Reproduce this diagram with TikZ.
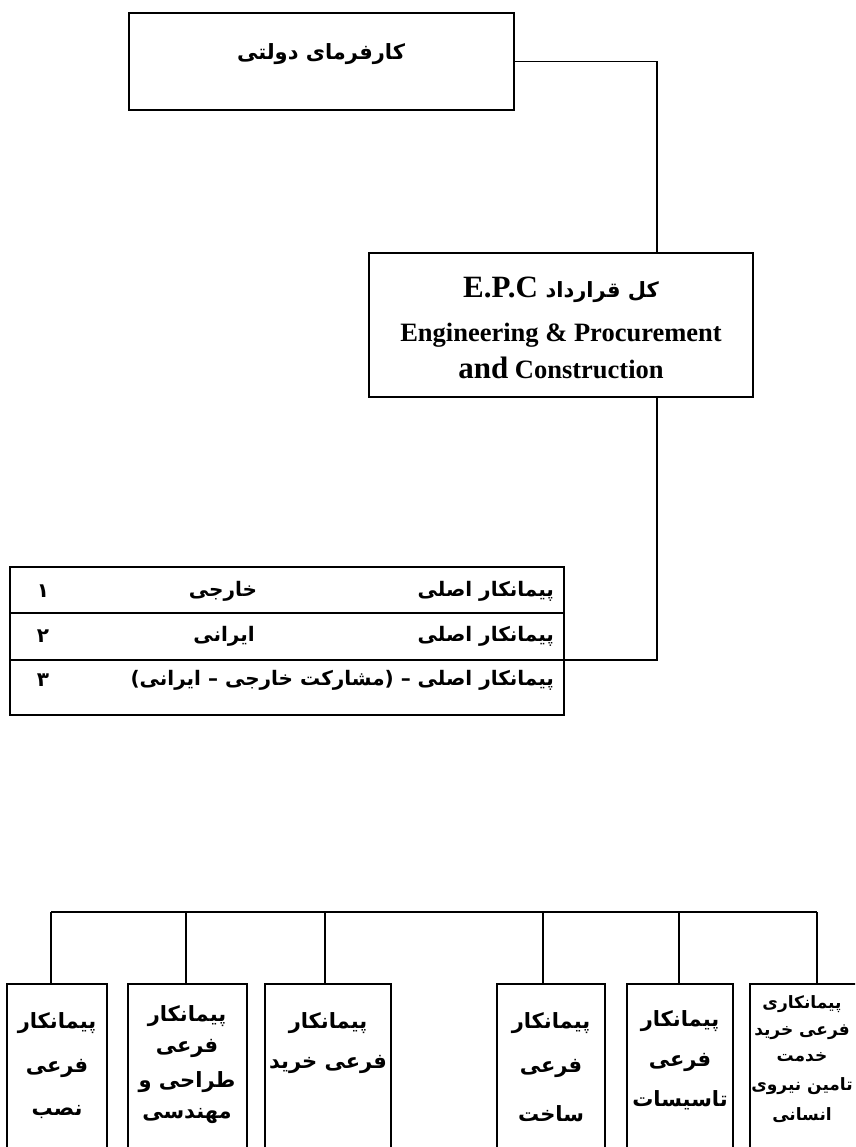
\documentclass[tikz,border=0pt]{standalone}
\usepackage{fontspec}
\setmainfont{Liberation Serif}
\newfontfamily\fa[Script=Arabic]{DejaVu Sans}
\TeXXeTstate=1
\newcommand\fr[1]{{\fa\bfseries\beginR #1\endR}}
\newcommand\fsz[1]{\fontsize{#1}{#1}\selectfont}
\begin{document}
\begin{tikzpicture}[x=1pt,y=-1pt,line width=1.7pt,
  box/.style={draw,rectangle,inner sep=0pt,outer sep=0pt,anchor=north west,line width=1.7pt},
  lbl/.style={inner sep=0pt,outer sep=0pt,align=center},
  big/.style={lbl,font=\fsz{21}},
  mid/.style={lbl,font=\fsz{20}},
  sml/.style={lbl,font=\fsz{17}},
  conn/.style={line width=1.7pt}]
\useasboundingbox (0,0) rectangle (855,1147);
\clip (0,0) rectangle (855,1147);

% top box
\node[box,minimum width=385pt,minimum height=97pt] (emp) at (129,13) {};
\node[big] (empt) at (321,54) {\fr{کارفرمای دولتی}};

% EPC box
\node[box,minimum width=384pt,minimum height=144pt] (epc) at (369,253) {};
\node[lbl] (epc1) at (561,290) {\fsz{31}\textbf{E.P.C}\ \fsz{21}\fr{کل قرارداد}};
\node[lbl,font=\bfseries\fsz{26.5}] (epc2) at (561,335) {Engineering \& Procurement};
\node[lbl,font=\bfseries\fsz{26.5}] (epc3) at (561,368) {{\fsz{31}and} Construction};

\coordinate (v) at (657,0);
\draw[conn] (emp.east) -| (epc.north -| v);

% table
\node[box,minimum width=554pt,minimum height=148pt] (tbl) at (10,567) {};
\coordinate (s1w) at (10,613);
\coordinate (s1e) at (564,613);
\coordinate (s2w) at (10,660);
\coordinate (s2e) at (564,660);
\draw[conn] (s1w) -- (s1e);
\draw[conn] (s2w) -- (s2e);
\draw[conn] (epc.south -| v) |- (s2e);

\node[mid,anchor=east] (r1a) at (554,591) {\fr{پیمانکار اصلی}};
\node[mid] (r1b) at (223,591) {\fr{خارجی}};
\node[mid] (r1c) at (43,591) {\fr{۱}};
\node[mid,anchor=east] (r2a) at (554,636) {\fr{پیمانکار اصلی}};
\node[mid] (r2b) at (224,636) {\fr{ایرانی}};
\node[mid] (r2c) at (43,636) {\fr{۲}};
\node[mid,anchor=east] (r3a) at (554,680) {\fr{پیمانکار اصلی – (مشارکت خارجی – ایرانی)}};
\node[mid] (r3c) at (43,680) {\fr{۳}};

% bottom boxes
\node[box,minimum width=100pt,minimum height=200pt] (b1) at (7,984) {};
\node[box,minimum width=119pt,minimum height=200pt] (b2) at (128,984) {};
\node[box,minimum width=126pt,minimum height=200pt] (b3) at (265,984) {};
\node[box,minimum width=108pt,minimum height=200pt] (b4) at (497,984) {};
\node[box,minimum width=106pt,minimum height=200pt] (b5) at (627,984) {};
\node[box,minimum width=110pt,minimum height=200pt] (b6) at (750,984) {};

\coordinate (d1) at (51,912);
\coordinate (d2) at (186,912);
\coordinate (d3) at (325,912);
\coordinate (d4) at (543,912);
\coordinate (d5) at (679,912);
\coordinate (d6) at (817,912);
\draw[conn] (d1) -- (d6);
\draw[conn] (d1) -- (d1 |- b1.north);
\draw[conn] (d2) -- (d2 |- b2.north);
\draw[conn] (d3) -- (d3 |- b3.north);
\draw[conn] (d4) -- (d4 |- b4.north);
\draw[conn] (d5) -- (d5 |- b5.north);
\draw[conn] (d6) -- (d6 |- b6.north);

% texts in bottom boxes
\node[big] (t11) at (57,1023) {\fr{پیمانکار}};
\node[big] (t12) at (57,1068) {\fr{فرعی}};
\node[big] (t13) at (57,1112) {\fr{نصب}};

\node[big] (t21) at (187,1016) {\fr{پیمانکار}};
\node[big] (t22) at (187,1048) {\fr{فرعی}};
\node[big] (t23) at (187,1082) {\fr{طراحی و}};
\node[big] (t24) at (187,1116) {\fr{مهندسی}};

\node[big] (t31) at (328,1023) {\fr{پیمانکار}};
\node[big] (t32) at (328,1064) {\fr{فرعی خرید}};

\node[big] (t41) at (551,1023) {\fr{پیمانکار}};
\node[big] (t42) at (551,1068) {\fr{فرعی}};
\node[big] (t43) at (551,1114) {\fr{ساخت}};

\node[big] (t51) at (680,1021) {\fr{پیمانکار}};
\node[big] (t52) at (680,1062) {\fr{فرعی}};
\node[big] (t53) at (680,1100) {\fr{تاسیسات}};

\node[sml] (t61) at (802,1004) {\fr{پیمانکاری}};
\node[sml] (t62) at (802,1032) {\fr{فرعی خرید}};
\node[sml] (t63) at (802,1057) {\fr{خدمت}};
\node[sml] (t64) at (802,1086) {\fr{تامین نیروی}};
\node[sml] (t65) at (802,1115) {\fr{انسانی}};
\end{tikzpicture}
\end{document}
